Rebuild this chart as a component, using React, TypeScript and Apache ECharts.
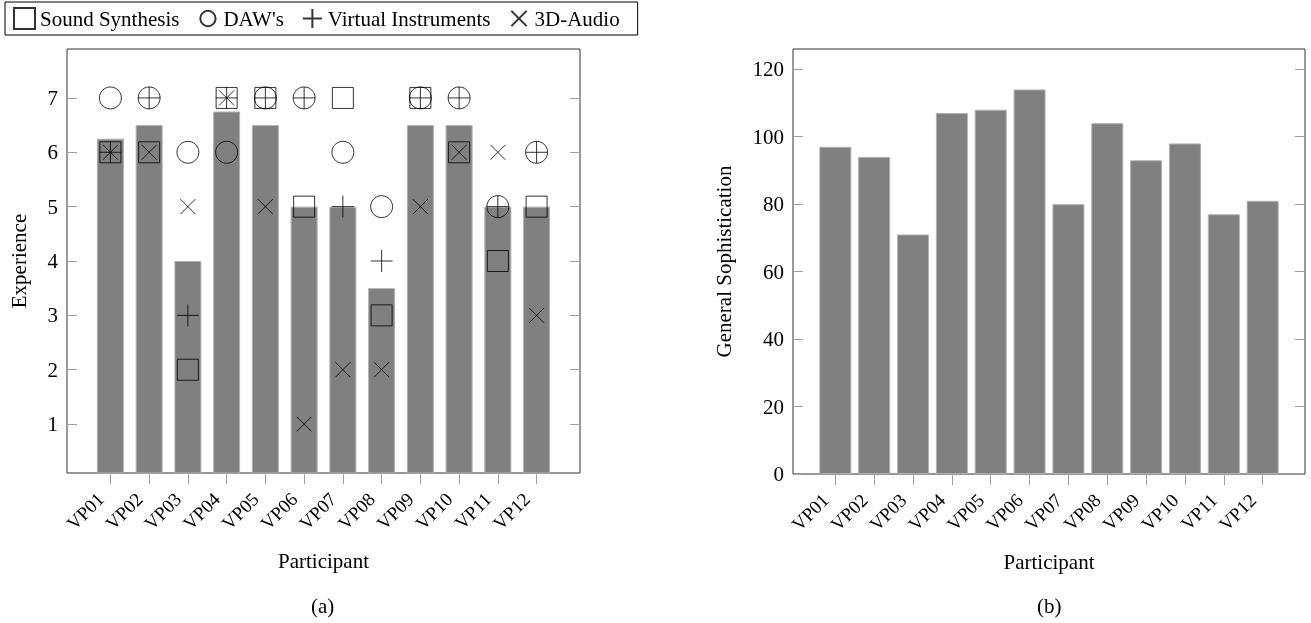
import React, { useEffect, useRef } from 'react';
import * as echarts from 'echarts';

const participants = ['VP01', 'VP02', 'VP03', 'VP04', 'VP05', 'VP06', 'VP07', 'VP08', 'VP09', 'VP10', 'VP11', 'VP12'];
const experienceBars = [6.25, 6.5, 4, 6.75, 6.5, 5, 5, 3.5, 6.5, 6.5, 5, 5];
const soundSynthesis = [6, 6, 2, 7, 7, 5, 7, 3, 7, 6, 4, 5];
const daws = [7, 7, 6, 6, 7, 7, 6, 5, 7, 7, 5, 6];
const virtualInstruments = [6, 7, 3, 7, 7, 7, 5, 4, 7, 7, 5, 6];
const audio3d = [6, 6, 5, 7, 5, 1, 2, 2, 5, 6, 6, 3];
const generalSophistication = [97, 94, 71, 107, 108, 114, 80, 104, 93, 98, 77, 81];
const experienceTicks = [1, 2, 3, 4, 5, 6, 7];
const sophisticationTicks = [0, 20, 40, 60, 80, 100, 120];

const PLUS = 'path://M0,10L20,10M10,0L10,20';
const CROSS = 'path://M0,0L20,20M20,0L0,20';
const LEGEND_CIRCLE = 'path://M0,0M22,22M19,11A8,8,0,1,1,3,11A8,8,0,1,1,19,11Z';
const LEGEND_CROSS = 'path://M0,0M22,22M3,3L19,19M19,3L3,19';
const LEGEND_PLUS = 'path://M0,0M22,22M1,11L21,11M11,1L11,21';

export default function App() {
  const ref = useRef<HTMLDivElement>(null);
  useEffect(() => {
    const chart = echarts.init(ref.current!, null, { renderer: 'svg' });
    const font = 'Liberation Serif';
    const idx = participants.map((_, i) => i);
    const pts = (arr: number[]) => arr.map((v, i) => [i, v]);
    const text = { fontFamily: font, fontSize: 21, color: '#000' };
    const tickStyle = { color: '#a0a0a0', width: 1 };
    const xAxis = (gridIndex: number, pad: number) => ({
      type: 'value',
      gridIndex,
      min: -pad,
      max: participants.length - 1 + pad,
      axisLine: { show: false, onZero: false },
      splitLine: { show: false },
      axisTick: { show: true, customValues: idx, length: 11, lineStyle: tickStyle },
      axisLabel: {
        customValues: idx,
        formatter: (v: number) => participants[Math.round(v)] ?? '',
        rotate: 45,
        margin: 13,
        padding: [0, 14, 0, 0],
        ...text,
        fontSize: 19,
      },
      name: 'Participant',
      nameLocation: 'middle',
      nameGap: 77,
      nameTextStyle: text,
    });
    const yAxis = (gridIndex: number, min: number, max: number, ticks: number[], name: string, gap: number) => ({
      type: 'value',
      gridIndex,
      position: 'left',
      min,
      max,
      axisLine: { show: false, onZero: false },
      splitLine: { show: false },
      axisTick: { show: true, inside: true, customValues: ticks, length: 10, lineStyle: tickStyle },
      axisLabel: { customValues: ticks, margin: 9, ...text },
      name,
      nameLocation: 'middle',
      nameGap: gap,
      nameTextStyle: text,
    });
    const yMirror = (gridIndex: number, min: number, max: number, ticks: number[]) => ({
      type: 'value',
      gridIndex,
      position: 'right',
      min,
      max,
      axisLine: { show: false, onZero: false },
      splitLine: { show: false },
      axisTick: { show: true, inside: true, customValues: ticks, length: 10, lineStyle: tickStyle },
      axisLabel: { show: false },
    });
    const markerStyle = { color: 'transparent', borderColor: '#000', borderWidth: 1 };
    const scatter = (name: string, data: number[], symbol: string, size: number) => ({
      name,
      type: 'scatter',
      xAxisIndex: 0,
      yAxisIndex: 0,
      symbol,
      symbolSize: size,
      itemStyle: markerStyle,
      silent: true,
      z: 5,
      data: pts(data),
    });
    const barStyle = { color: '#808080', borderColor: '#b0b0b0', borderWidth: 1 };

    chart.setOption({
      animation: false,
      grid: [
        { left: 67, top: 49, width: 513, height: 424, show: true, borderColor: '#333', borderWidth: 1, backgroundColor: 'transparent' },
        { left: 793, top: 49, width: 512, height: 425, show: true, borderColor: '#333', borderWidth: 1, backgroundColor: 'transparent' },
      ],
      legend: {
        left: 5,
        top: 2,
        padding: [5, 18, 5, 8],
        borderColor: '#000',
        borderWidth: 1,
        backgroundColor: '#fff',
        itemWidth: 21,
        itemHeight: 21,
        itemGap: 17,
        selectedMode: false,
        textStyle: text,
        data: [
          { name: 'Sound Synthesis', icon: 'rect' },
          { name: "DAW's", icon: LEGEND_CIRCLE },
          { name: 'Virtual Instruments', icon: LEGEND_PLUS },
          { name: '3D-Audio', icon: LEGEND_CROSS },
        ],
      },
      xAxis: [xAxis(0, 1.12), xAxis(1, 1.09)],
      yAxis: [
        yAxis(0, 0.1, 7.9, experienceTicks, 'Experience', 38),
        yMirror(0, 0.1, 7.9, experienceTicks),
        yAxis(1, 0, 126, sophisticationTicks, 'General Sophistication', 59),
        yMirror(1, 0, 126, sophisticationTicks),
      ],
      series: [
        {
          name: 'Experience',
          type: 'bar',
          xAxisIndex: 0,
          yAxisIndex: 0,
          barWidth: 27,
          itemStyle: barStyle,
          silent: true,
          data: pts(experienceBars),
        },
        scatter('Sound Synthesis', soundSynthesis, 'rect', 21),
        scatter("DAW's", daws, 'circle', 22),
        scatter('Virtual Instruments', virtualInstruments, PLUS, 22),
        scatter('3D-Audio', audio3d, CROSS, 15),
        {
          name: 'General Sophistication',
          type: 'bar',
          xAxisIndex: 1,
          yAxisIndex: 2,
          barWidth: 32,
          itemStyle: barStyle,
          silent: true,
          data: pts(generalSophistication),
        },
      ],
      graphic: [
        { type: 'text', left: 323 - 12, top: 595, style: { text: '(a)', fill: '#000', font: `21px ${font}` } },
        { type: 'text', left: 1049 - 12, top: 595, style: { text: '(b)', fill: '#000', font: `21px ${font}` } },
      ],
    });
    return () => chart.dispose();
  }, []);
  return <div ref={ref} style={{ position: 'fixed', left: 0, top: 0, width: 1311, height: 623 }} />;
}
